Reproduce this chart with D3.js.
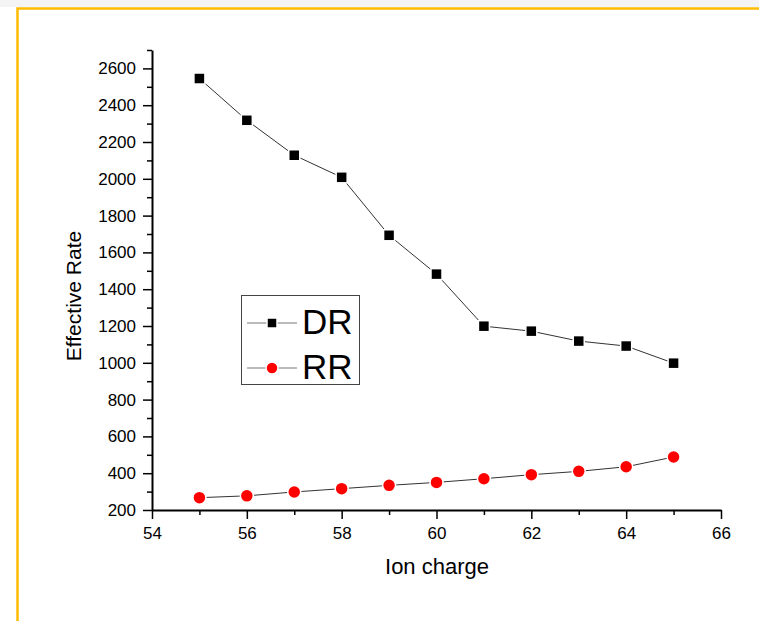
<!DOCTYPE html>
<html>
<head>
<meta charset="utf-8">
<script src="https://cdn.jsdelivr.net/npm/d3@7"></script>
<style>
  body { margin: 0; background: #fff; }
  svg { display: block; font-family: "Liberation Sans", Arial, sans-serif; }
  svg text { font-family: "Liberation Sans", Arial, sans-serif; fill: #000; }
</style>
</head>
<body>
<div id="chart"></div>
<script>
// data
const ionCharge = [55, 56, 57, 58, 59, 60, 61, 62, 63, 64, 65];
const drValues = [2545, 2318, 2128, 2008, 1693, 1482, 1199, 1172, 1118, 1091, 998];
const rrValues = [267, 277, 298, 316, 334, 350, 370, 392, 410, 435, 488];
const xTicks = [54, 56, 58, 60, 62, 64, 66];
const yTicks = [200, 400, 600, 800, 1000, 1200, 1400, 1600, 1800, 2000, 2200, 2400, 2600];

const W = 759, H = 621;
const svg = d3.select("#chart").append("svg")
    .attr("width", W)
    .attr("height", H);

// light grey strip above the frame and the orange frame
svg.append("rect").attr("x", 0).attr("y", 0).attr("width", W).attr("height", 7).attr("fill", "#f4f4f4");
svg.append("path")
    .attr("d", `M17.5,${H} L17.5,8.5 L${W},8.5`)
    .attr("fill", "none")
    .attr("stroke", "#ffbb00")
    .attr("stroke-width", 2.5);

const x = d3.scaleLinear().domain([54, 66]).range([152, 721]);
const y = d3.scaleLinear().domain([200, 2700]).range([510, 50]);

// minor ticks
svg.append("g")
    .attr("transform", "translate(0,510)")
    .call(d3.axisBottom(x).tickValues(d3.range(55, 66, 2)).tickSize(5).tickFormat(""))
    .call(g => g.select(".domain").remove())
    .selectAll("line").attr("stroke", "#000").attr("stroke-width", 1.5);

svg.append("g")
    .attr("transform", "translate(152,0)")
    .call(d3.axisLeft(y).tickValues(d3.range(300, 2701, 200)).tickSize(5).tickFormat(""))
    .call(g => g.select(".domain").remove())
    .selectAll("line").attr("stroke", "#000").attr("stroke-width", 1.5);

// major axes
const xAxis = svg.append("g")
    .attr("transform", "translate(0,510)")
    .call(d3.axisBottom(x).tickValues(xTicks).tickFormat(d3.format("d"))
        .tickSize(9).tickSizeOuter(0).tickPadding(8));
xAxis.select(".domain").attr("stroke", "#000").attr("stroke-width", 2);
xAxis.selectAll("line").attr("stroke", "#000").attr("stroke-width", 1.5);
xAxis.selectAll("text").style("font-size", "17px");

const yAxis = svg.append("g")
    .attr("transform", "translate(152,0)")
    .call(d3.axisLeft(y).tickValues(yTicks).tickFormat(d3.format("d"))
        .tickSize(9).tickSizeOuter(0).tickPadding(7));
yAxis.select(".domain").attr("stroke", "#000").attr("stroke-width", 2);
yAxis.selectAll("line").attr("stroke", "#000").attr("stroke-width", 1.5);
yAxis.selectAll("text").style("font-size", "17px");

// axis titles
svg.append("text")
    .attr("x", 437).attr("y", 574)
    .attr("text-anchor", "middle")
    .style("font-size", "22px")
    .text("Ion charge");

svg.append("text")
    .attr("transform", "translate(81,296) rotate(-90)")
    .attr("text-anchor", "middle")
    .style("font-size", "21px")
    .text("Effective Rate");

// series
const line = d3.line().x(d => x(d[0])).y(d => y(d[1]));
const drPts = ionCharge.map((c, i) => [c, drValues[i]]);
const rrPts = ionCharge.map((c, i) => [c, rrValues[i]]);

[drPts, rrPts].forEach(pts => {
    svg.append("path")
        .datum(pts)
        .attr("d", line)
        .attr("fill", "none")
        .attr("stroke", "#333")
        .attr("stroke-width", 1);
});

svg.append("g").selectAll("rect")
    .data(drPts)
    .enter()
    .append("rect")
    .attr("x", d => x(d[0]) - 5.5)
    .attr("y", d => y(d[1]) - 5.5)
    .attr("width", 11)
    .attr("height", 11)
    .attr("fill", "#000")
    .attr("stroke", "#fff")
    .attr("stroke-width", 1.5);

svg.append("g").selectAll("circle")
    .data(rrPts)
    .enter()
    .append("circle")
    .attr("cx", d => x(d[0]))
    .attr("cy", d => y(d[1]))
    .attr("r", 6.5)
    .attr("fill", "#ff0000")
    .attr("stroke", "#fff")
    .attr("stroke-width", 1.5);

// legend
const legend = svg.append("g");
legend.append("rect")
    .attr("x", 241.5).attr("y", 295.5)
    .attr("width", 118).attr("height", 89)
    .attr("fill", "#fff")
    .attr("stroke", "#444")
    .attr("stroke-width", 1);

const legendItems = [
    { name: "DR", cy: 323, kind: "square" },
    { name: "RR", cy: 368, kind: "circle" }
];
legendItems.forEach(it => {
    legend.append("line")
        .attr("x1", 247).attr("x2", 297)
        .attr("y1", it.cy).attr("y2", it.cy)
        .attr("stroke", "#777").attr("stroke-width", 1);
    if (it.kind === "square") {
        legend.append("rect")
            .attr("x", 267).attr("y", it.cy - 5)
            .attr("width", 10).attr("height", 10)
            .attr("fill", "#000").attr("stroke", "#fff").attr("stroke-width", 1.5);
    } else {
        legend.append("circle")
            .attr("cx", 272).attr("cy", it.cy).attr("r", 6)
            .attr("fill", "#ff0000").attr("stroke", "#fff").attr("stroke-width", 1.5);
    }
    legend.append("text")
        .attr("x", 302).attr("y", it.cy + 11)
        .style("font-size", "35px")
        .text(it.name);
});
</script>
</body>
</html>
